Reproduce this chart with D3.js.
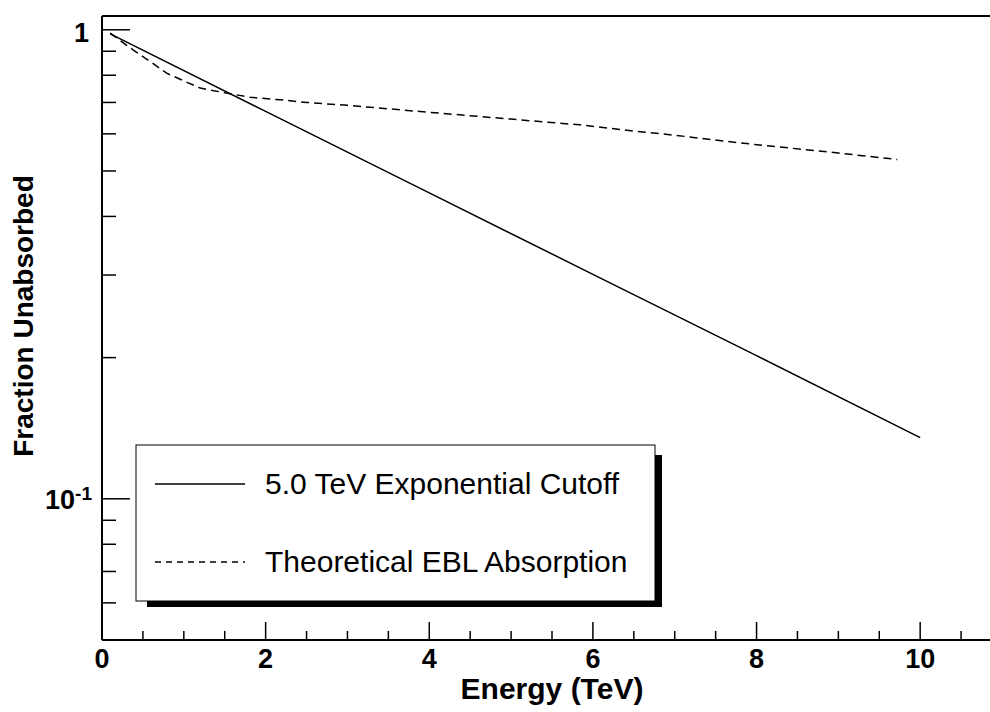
<!DOCTYPE html>
<html>
<head>
<meta charset="utf-8">
<script src="https://cdn.jsdelivr.net/npm/d3@7"></script>
<style>
  html, body { margin: 0; padding: 0; background: #fff; }
  svg { display: block; font-family: "Liberation Sans", Arial, Helvetica, sans-serif; }
</style>
</head>
<body>
<svg id="chart" width="990" height="712"></svg>
<script>
// Photon energies (TeV) and surviving fraction for each model
const cutoffEnergy = [0.1, 2, 4, 6, 8, 10];
const cutoffFraction = [0.980, 0.670, 0.449, 0.301, 0.202, 0.135];

const eblEnergy = [0.1, 0.2, 0.38, 0.6, 0.79, 1.0, 1.2, 1.52, 1.81, 2.18, 2.5, 3, 4, 5, 5.84, 6.5, 7, 7.64, 8, 9, 9.72];
const eblFraction = [0.984, 0.955, 0.906, 0.853, 0.808, 0.778, 0.751, 0.733, 0.718, 0.709, 0.700, 0.690, 0.667, 0.645, 0.627, 0.608, 0.596, 0.578, 0.569, 0.546, 0.529];

const seriesNames = ["5.0 TeV Exponential Cutoff", "Theoretical EBL Absorption"];
const xTickValues = [0, 2, 4, 6, 8, 10];
const xTitle = "Energy (TeV)";
const yTitle = "Fraction Unabsorbed";

const svg = d3.select("#chart");
const plotLeft = 102, plotTop = 16, plotBottom = 640, plotRight = 1002;

const x = d3.scaleLinear().domain([0, 11]).range([plotLeft, plotRight]);
const y = d3.scaleLog().domain([0.05, 1.07]).range([plotBottom, plotTop]);

// frame top edge
svg.append("line").attr("x1", plotLeft).attr("x2", 990).attr("y1", plotTop).attr("y2", plotTop)
  .attr("stroke", "#000").attr("stroke-width", 2);

// x axis: major ticks every 2 TeV, minor every 0.5 TeV
const xMinor = d3.range(0, 11.01, 0.5).filter(v => v % 2 !== 0);
const gx = svg.append("g");
gx.append("line").attr("x1", plotLeft).attr("x2", 990).attr("y1", plotBottom).attr("y2", plotBottom)
  .attr("stroke", "#000").attr("stroke-width", 2);
gx.selectAll("line.major").data(xTickValues).join("line").attr("class", "major")
  .attr("x1", d => x(d)).attr("x2", d => x(d)).attr("y1", plotBottom).attr("y2", plotBottom - 18)
  .attr("stroke", "#000").attr("stroke-width", 1.5);
gx.selectAll("line.minor").data(xMinor).join("line").attr("class", "minor")
  .attr("x1", d => x(d)).attr("x2", d => x(d)).attr("y1", plotBottom).attr("y2", plotBottom - 9)
  .attr("stroke", "#000").attr("stroke-width", 1.5);
gx.selectAll("text").data(xTickValues).join("text")
  .attr("x", d => x(d)).attr("y", 668).attr("text-anchor", "middle")
  .attr("font-size", 27).attr("font-weight", "bold").text(d => d);

// y axis: log scale, major at decades, minor at each integer multiple
const yMajor = [0.1, 1];
const yMinor = [0.05, 0.06, 0.07, 0.08, 0.09, 0.2, 0.3, 0.4, 0.5, 0.6, 0.7, 0.8, 0.9];
const gy = svg.append("g");
gy.append("line").attr("x1", plotLeft).attr("x2", plotLeft).attr("y1", plotTop).attr("y2", plotBottom)
  .attr("stroke", "#000").attr("stroke-width", 2);
gy.selectAll("line.major").data(yMajor).join("line").attr("class", "major")
  .attr("x1", plotLeft).attr("x2", plotLeft + 28).attr("y1", d => y(d)).attr("y2", d => y(d))
  .attr("stroke", "#000").attr("stroke-width", 1.5);
gy.selectAll("line.minor").data(yMinor).join("line").attr("class", "minor")
  .attr("x1", plotLeft).attr("x2", plotLeft + 14).attr("y1", d => y(d)).attr("y2", d => y(d))
  .attr("stroke", "#000").attr("stroke-width", 1.5);

gy.append("text").attr("x", 89).attr("y", y(1) + 12).attr("text-anchor", "end")
  .attr("font-size", 27).attr("font-weight", "bold").text("1");
const dec = gy.append("text").attr("x", 92).attr("y", y(0.1) + 10).attr("text-anchor", "end")
  .attr("font-size", 27).attr("font-weight", "bold");
dec.append("tspan").text("10");
dec.append("tspan").attr("dy", -9).attr("font-size", 19).text("-1");

// axis titles
svg.append("text").attr("x", (plotLeft + plotRight) / 2).attr("y", 699).attr("text-anchor", "middle")
  .attr("font-size", 30).attr("font-weight", "bold").text(xTitle);
svg.append("text").attr("transform", `translate(33,316) rotate(-90)`)
  .attr("text-anchor", "middle").attr("font-size", 28).attr("font-weight", "bold").text(yTitle);

// curves
const line = d3.line().x(d => x(d[0])).y(d => y(d[1]));
svg.append("path").datum(d3.zip(cutoffEnergy, cutoffFraction))
  .attr("d", line).attr("fill", "none").attr("stroke", "#000").attr("stroke-width", 1.5);
svg.append("path").datum(d3.zip(eblEnergy, eblFraction))
  .attr("d", line).attr("fill", "none").attr("stroke", "#000").attr("stroke-width", 1.5)
  .attr("stroke-dasharray", "8,5");

// legend with drop shadow
const lg = svg.append("g");
lg.append("rect").attr("x", 147).attr("y", 455).attr("width", 515).attr("height", 152).attr("fill", "#000");
lg.append("rect").attr("x", 136).attr("y", 445).attr("width", 519).attr("height", 156)
  .attr("fill", "#fff").attr("stroke", "#000").attr("stroke-width", 1);
const entries = [
  { name: seriesNames[0], dash: null, y: 484 },
  { name: seriesNames[1], dash: "6,5", y: 562 }
];
entries.forEach(e => {
  lg.append("line").attr("x1", 155).attr("x2", 245).attr("y1", e.y).attr("y2", e.y)
    .attr("stroke", "#000").attr("stroke-width", 1.3).attr("stroke-dasharray", e.dash);
  lg.append("text").attr("x", 265).attr("y", e.y + 10).attr("font-size", 30).text(e.name);
});
</script>
</body>
</html>
